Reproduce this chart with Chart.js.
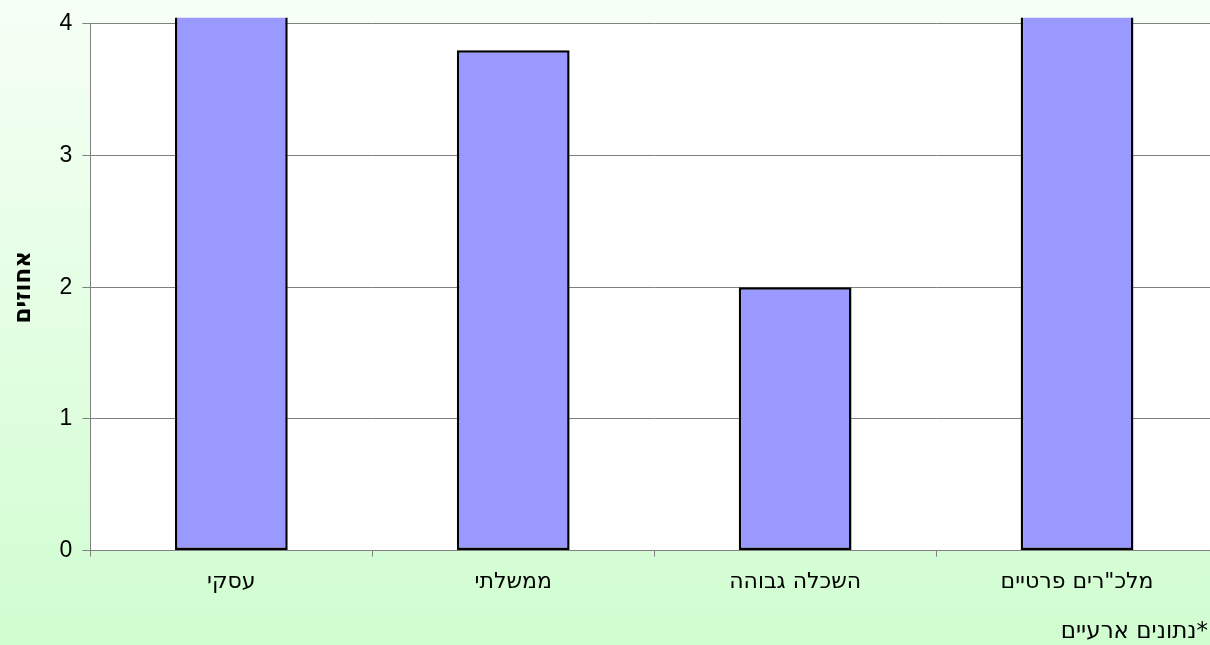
<!DOCTYPE html>
<html>
<head>
<meta charset="utf-8">
<script src="https://cdn.jsdelivr.net/npm/chart.js@4/dist/chart.umd.min.js"></script>
<style>
  html, body { margin: 0; padding: 0; overflow: hidden; }
  body { width: 1210px; height: 645px; background: linear-gradient(to bottom, #f6fff6, #d0fdd0); }
  #wrap { width: 1222px; height: 645px; position: relative; }
</style>
</head>
<body>
<div id="wrap"><canvas id="grafico"></canvas></div>
<script>
// datos del grafico
const categorias = ['עסקי', 'ממשלתי', 'השכלה גבוהה', 'מלכ"רים פרטיים'];
const valores = [4.6, 3.8, 2.0, 4.6];
const tituloY = 'אחוזים';
const notaPie = '*נתונים ארעיים';

const fuente = '"DejaVu Sans", sans-serif';
const fuenteNum = '"Liberation Sans", Arial, sans-serif';

// pinta el fondo blanco del area del grafico
const fondoBlanco = {
    id: 'fondoBlanco',
    beforeDraw(chart) {
        const a = chart.chartArea;
        const ctx = chart.ctx;
        ctx.save();
        ctx.fillStyle = '#ffffff';
        ctx.fillRect(a.left, a.top, a.right - a.left, a.bottom - a.top);
        ctx.restore();
    }
};

// nota al pie abajo a la derecha
const nota = {
    id: 'nota',
    afterDraw(chart) {
        const ctx = chart.ctx;
        ctx.save();
        ctx.direction = 'rtl';
        ctx.textAlign = 'right';
        ctx.textBaseline = 'middle';
        ctx.fillStyle = '#000';
        ctx.font = '23px ' + fuente;
        ctx.fillText(notaPie, 1208, 632);
        ctx.restore();
    }
};

const ctx = document.getElementById('grafico').getContext('2d');
new Chart(ctx, {
    type: 'bar',
    data: {
        labels: categorias,
        datasets: [{
            data: valores,
            backgroundColor: '#9999ff',
            borderColor: '#000000',
            borderWidth: 2.5,
            borderSkipped: false,
            categoryPercentage: 1,
            barPercentage: 0.4,
            clip: { left: 0, top: 6, right: 0, bottom: 0 }
        }]
    },
    options: {
        responsive: true,
        maintainAspectRatio: false,
        animation: false,
        layout: { padding: { left: 10, top: 14, right: 4, bottom: 38 } },
        plugins: {
            legend: { display: false },
            tooltip: { enabled: false }
        },
        scales: {
            x: {
                offset: true,
                grid: {
                    offset: true,
                    drawOnChartArea: false,
                    color: '#808080',
                    tickLength: 6
                },
                border: { color: '#808080', width: 1 },
                ticks: {
                    color: '#000',
                    padding: 12,
                    font: { family: fuente, size: 22 }
                }
            },
            y: {
                min: 0,
                max: 4,
                grid: {
                    color: '#808080',
                    tickLength: 8
                },
                border: { color: '#808080', width: 1 },
                ticks: {
                    stepSize: 1,
                    color: '#000',
                    padding: 10,
                    font: { family: fuenteNum, size: 23 }
                },
                title: {
                    display: true,
                    text: tituloY,
                    color: '#000',
                    padding: { top: 0, bottom: 12 },
                    font: { family: fuente, size: 23, weight: 'bold' }
                }
            }
        }
    },
    plugins: [fondoBlanco, nota]
});
</script>
</body>
</html>
